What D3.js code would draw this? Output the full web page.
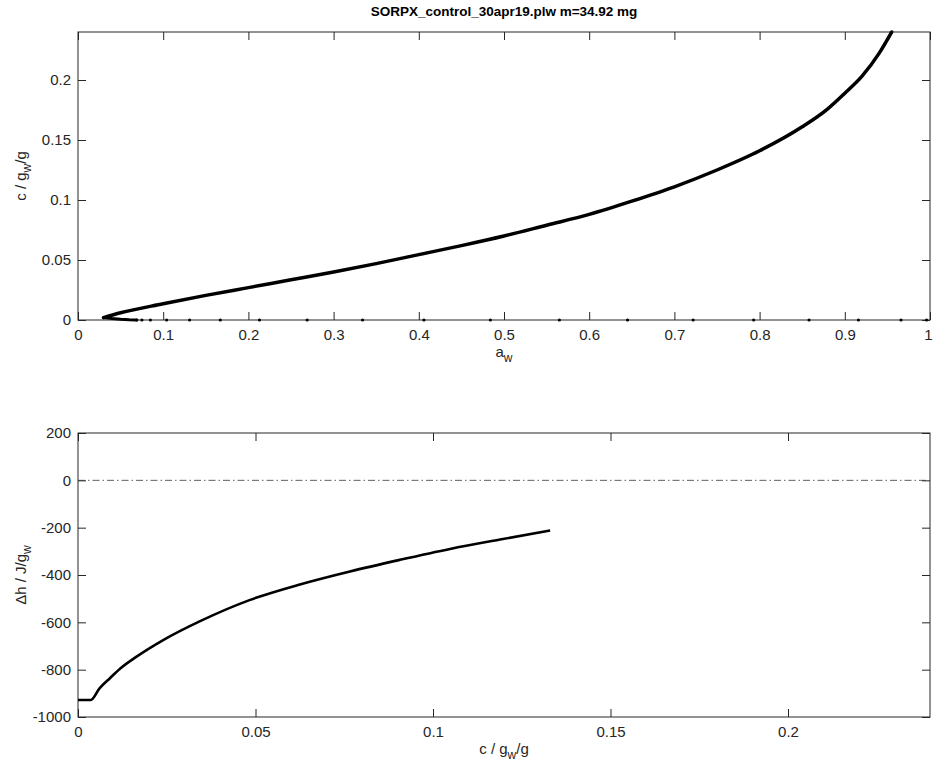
<!DOCTYPE html>
<html><head><meta charset="utf-8">
<script src="https://cdn.jsdelivr.net/npm/d3@7"></script>
<style>body{margin:0;background:#fff}svg{display:block}text{font-family:"Liberation Sans",Arial,Helvetica,sans-serif}</style>
</head><body><svg id="c" width="933" height="769"></svg>
<script>
// Top panel: sorption isotherm c vs aw
const awCurve = [0.03,0.05,0.1,0.15,0.2,0.25,0.3,0.35,0.4,0.45,0.5,0.55,0.6,0.65,0.7,0.75,0.8,0.85,0.88,0.9,0.92,0.94,0.955];
const cCurve  = [0.002,0.006,0.0135,0.0205,0.027,0.0335,0.040,0.047,0.0545,0.062,0.070,0.079,0.088,0.099,0.111,0.125,0.141,0.161,0.176,0.189,0.203,0.222,0.24];
// Desorption start segment near zero
const awStart = [0.03,0.04,0.05,0.06,0.069];
const cStart  = [0.002,0.0012,0.0006,0.0002,0];
// Zero-valued points on the aw axis
const awZero = [0.069,0.075,0.085,0.104,0.131,0.167,0.213,0.269,0.334,0.406,0.484,0.565,0.645,0.722,0.793,0.858,0.916,0.966,0.996];
// Bottom panel: differential enthalpy vs c
const cEnth  = [0,0.0036,0.006,0.009,0.012,0.0165,0.024,0.0344,0.0485,0.0625,0.0766,0.0907,0.1048,0.1189,0.133];
const dhEnth = [-928,-928,-880,-836,-794,-745,-675,-595,-505,-440,-385,-336,-290,-250,-212];
const topXTicks = [0,0.1,0.2,0.3,0.4,0.5,0.6,0.7,0.8,0.9,1];
const topYTicks = [0,0.05,0.1,0.15,0.2];
const botXTicks = [0,0.05,0.1,0.15,0.2];
const botYTicks = [200,0,-200,-400,-600,-800,-1000];
const title = "SORPX_control_30apr19.plw m=34.92 mg";

const svg = d3.select("#c");
const axCol = "#262626", fs = 15, tl = 8;
const L = 78, R = 930;

function panel(y0, y1, xDom, yDom, xt, yt) {
  const x = d3.scaleLinear().domain(xDom).range([L, R]);
  const y = d3.scaleLinear().domain(yDom).range([y1, y0]);
  const g = svg.append("g");
  const fmt = d => String(+d.toFixed(4));
  g.append("g").attr("transform", `translate(0,${y1})`)
    .call(d3.axisBottom(x).tickValues(xt).tickSize(-tl).tickPadding(9).tickFormat(fmt))
    .call(a => { a.select(".domain").remove(); });
  g.append("g").attr("transform", `translate(0,${y0})`)
    .call(d3.axisTop(x).tickValues(xt).tickSize(-tl).tickFormat(""))
    .call(a => a.select(".domain").remove());
  g.append("g").attr("transform", `translate(${L},0)`)
    .call(d3.axisLeft(y).tickValues(yt).tickSize(-tl).tickPadding(7).tickFormat(fmt))
    .call(a => a.select(".domain").remove());
  g.append("g").attr("transform", `translate(${R},0)`)
    .call(d3.axisRight(y).tickValues(yt).tickSize(-tl).tickFormat(""))
    .call(a => a.select(".domain").remove());
  g.selectAll("g").attr("font-size", fs).attr("font-family", '"Liberation Sans",Arial,sans-serif');
  g.selectAll(".tick line").attr("stroke", axCol).attr("stroke-width", 1);
  g.selectAll(".tick text").attr("fill", axCol).style("font-size", fs + "px");
  g.append("rect").attr("x", L).attr("y", y0).attr("width", R - L).attr("height", y1 - y0)
    .attr("fill", "none").attr("stroke", axCol).attr("stroke-width", 1);
  return {x, y, g};
}

// Top panel
const T = panel(32, 320, [0, 1], [0, 0.24], topXTicks, topYTicks);
T.g.selectAll(".tick text").filter(d => d === 1).attr("dx", -2);
const lineT = d3.line().x(d => T.x(d[0])).y(d => T.y(d[1])).curve(d3.curveMonotoneX);
svg.append("clipPath").attr("id","ct").append("rect").attr("x",L).attr("y",30).attr("width",R-L).attr("height",292);
svg.append("path").datum(awCurve.map((a,i)=>[a,cCurve[i]]))
  .attr("d", lineT).attr("fill","none").attr("stroke","#000").attr("stroke-width",3.5)
  .attr("stroke-linecap","round").attr("clip-path","url(#ct)");
svg.append("path").datum(awStart.map((a,i)=>[a,cStart[i]]))
  .attr("d", d3.line().x(d=>T.x(d[0])).y(d=>T.y(d[1]))).attr("fill","none").attr("stroke","#000").attr("stroke-width",3)
  .attr("stroke-linecap","round");
svg.selectAll("circle.z").data(awZero).join("circle").attr("class","z")
  .attr("cx", d => T.x(d)).attr("cy", T.y(0)).attr("r", 1.6).attr("fill", "#000");

svg.append("text").attr("x", (L+R)/2).attr("y", 16).attr("text-anchor","middle")
  .style("font-size", "13.5px").attr("font-weight","bold").attr("fill","#000").text(title);
const xl = svg.append("text").attr("x", (L+R)/2).attr("y", 357).attr("text-anchor","middle").style("font-size","15px").attr("fill",axCol);
xl.append("tspan").text("a");
xl.append("tspan").style("font-size","12px").attr("dy",5).text("w");
const yl = svg.append("text").attr("transform",`translate(26,176) rotate(-90)`).attr("text-anchor","middle").style("font-size","15px").attr("fill",axCol);
yl.append("tspan").text("c / g");
yl.append("tspan").style("font-size","12px").attr("dy",5).text("w");
yl.append("tspan").attr("dy",-5).text("/g");

// Bottom panel
const B = panel(433, 717, [0, 0.24], [-1000, 200], botXTicks, botYTicks);
svg.append("line").attr("x1",L).attr("x2",R).attr("y1",B.y(0)).attr("y2",B.y(0))
  .attr("stroke","#333").attr("stroke-width",0.8).attr("stroke-dasharray","7,3,1.5,3");
svg.append("path").datum(cEnth.map((c,i)=>[c,dhEnth[i]]))
  .attr("d", d3.line().x(d=>B.x(d[0])).y(d=>B.y(d[1])).curve(d3.curveMonotoneX))
  .attr("fill","none").attr("stroke","#000").attr("stroke-width",2.6).attr("stroke-linejoin","round");
const bx = svg.append("text").attr("x",(L+R)/2).attr("y",754).attr("text-anchor","middle").style("font-size","15px").attr("fill",axCol);
bx.append("tspan").text("c / g");
bx.append("tspan").style("font-size","12px").attr("dy",5).text("w");
bx.append("tspan").attr("dy",-5).text("/g");
const by = svg.append("text").attr("transform",`translate(26,575) rotate(-90)`).attr("text-anchor","middle").style("font-size","15px").attr("fill",axCol);
by.append("tspan").text("\u0394h / J/g");
by.append("tspan").style("font-size","12px").attr("dy",5).text("w");
</script></body></html>
